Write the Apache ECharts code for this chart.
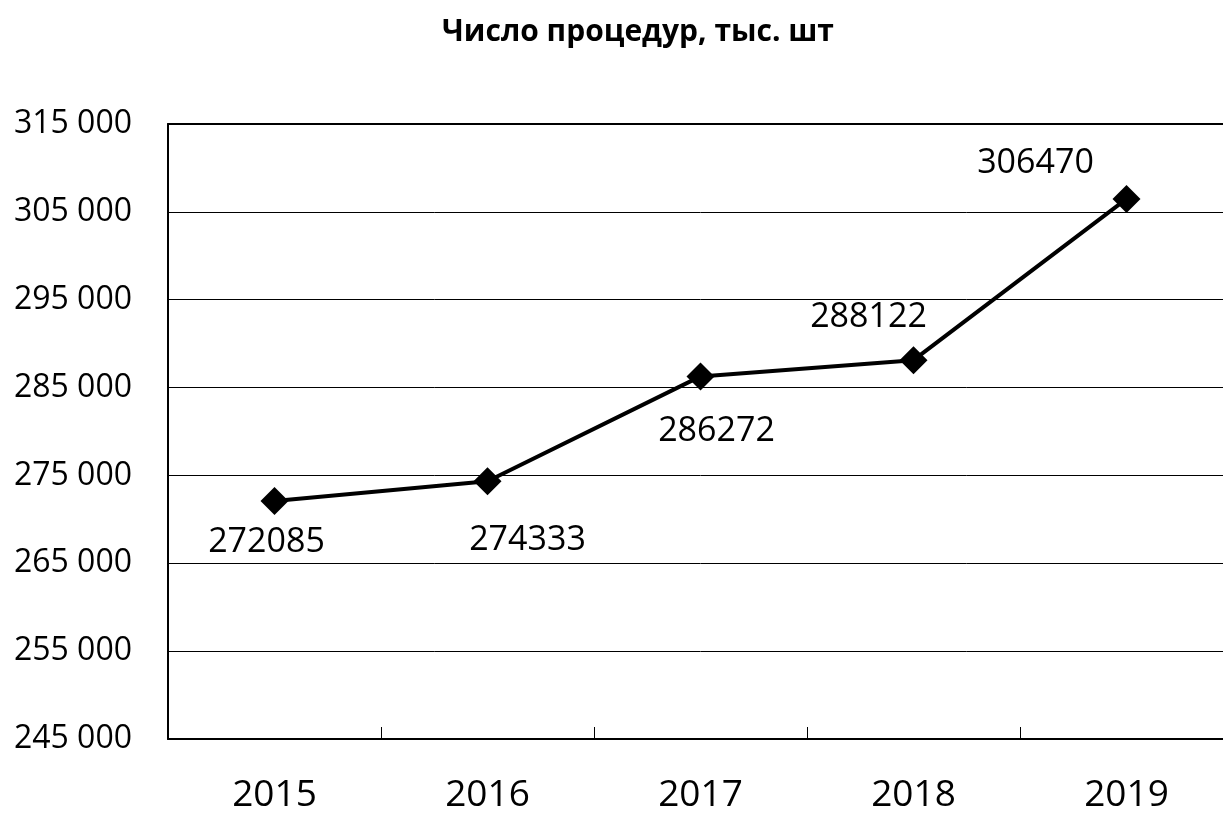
<!DOCTYPE html>
<html>
<head>
<meta charset="utf-8">
<script src="https://cdn.jsdelivr.net/npm/echarts@6/dist/echarts.min.js"></script>
<style>
html,body{margin:0;padding:0;background:#fff;overflow:hidden;}
#chart{width:1233px;height:814px;}
</style>
</head>
<body>
<div id="chart"></div>
<script>
const titleText = 'Число процедур, тыс. шт';
const categories = ['2015', '2016', '2017', '2018', '2019'];
const values = [272085, 274333, 286272, 288122, 306470];
const yMin = 245000, yMax = 315000, yStep = 10000;
const labelOffsets = [[-8, 41], [40, 59], [16, 55], [-45, -43], [-91, -36]];

const font = '"Open Sans", "Liberation Sans", sans-serif';
const chart = echarts.init(document.getElementById('chart'), null, {renderer: 'canvas'});
chart.setOption({
  animation: false,
  backgroundColor: '#fff',
  title: {
    text: titleText,
    left: 633, top: 12, textAlign: 'center',
    textStyle: {fontFamily: font, fontWeight: 'bold', fontSize: 30, color: '#000'}
  },
  grid: {left: 168, right: 0, top: 124, bottom: 73, containLabel: false},
  xAxis: [{
    type: 'category', data: categories, boundaryGap: true,
    axisLine: {lineStyle: {color: '#000', width: 2}},
    axisTick: {show: true, inside: true, length: 12, lineStyle: {color: '#000', width: 1}},
    axisLabel: {fontFamily: font, fontSize: 37, color: '#000', margin: 38}
  }, {
    type: 'category', data: categories, position: 'top',
    axisLine: {show: true, lineStyle: {color: '#000', width: 2}},
    axisTick: {show: false}, axisLabel: {show: false}
  }],
  yAxis: {
    type: 'value', min: yMin, max: yMax, interval: yStep,
    axisLine: {show: true, lineStyle: {color: '#000', width: 2}},
    axisTick: {show: false},
    splitLine: {lineStyle: {color: '#000', width: 1}},
    axisLabel: {
      fontFamily: font, fontSize: 32, color: '#000', margin: 36,
      formatter: v => String(v).replace(/\B(?=(\d{3})+(?!\d))/g, ' ')
    }
  },
  series: [{
    type: 'line',
    data: values.map((v, i) => ({value: v, label: {offset: labelOffsets[i]}})),
    symbol: 'diamond', symbolSize: [28, 28],
    itemStyle: {color: '#000'},
    lineStyle: {color: '#000', width: 4},
    label: {show: true, position: 'inside', fontFamily: font, fontSize: 34, color: '#000'}
  }]
});
</script>
</body>
</html>
